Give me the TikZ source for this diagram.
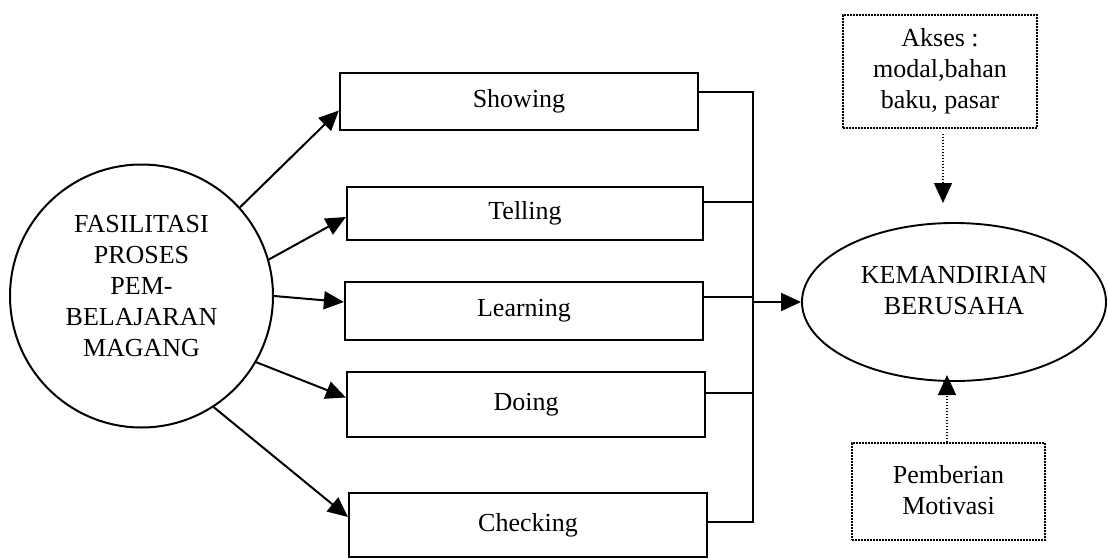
\documentclass[tikz,border=0pt]{standalone}
\usepackage{fontspec}
\setmainfont{Liberation Serif}
\usetikzlibrary{arrows.meta,shapes.geometric,calc}
\begin{document}
\begin{tikzpicture}[x=1pt,y=-1pt,
  txt/.style={font=\fontsize{26}{31}\selectfont, align=center},
  stepbox/.style={draw, line width=2.2pt, inner sep=0pt, txt},
  dotbox/.style={draw, line width=1.3pt, dash pattern=on 1.6pt off 1.4pt, inner sep=0pt, txt},
  conn/.style={line width=2pt},
  arr/.style={line width=2pt, -{Triangle[length=20pt,width=18pt]}},
  dotarr/.style={line width=1.3pt, dash pattern=on 1.6pt off 1.4pt, -{Triangle[length=20pt,width=18pt]}}
]
\useasboundingbox (0,0) rectangle (1108,559);
\fill[white] (0,0) rectangle (1108,559);

% main circle
\node[draw, circle, line width=2pt, minimum size=263pt, inner sep=0pt] (circ) at (141.5,296) {};
\node[txt] (circtxt) at ($(circ.center)+(0,-10)$)
  {FASILITASI\\PROSES\\PEM-\\BELAJARAN\\MAGANG};

% step boxes
\node[stepbox, minimum width=358pt, minimum height=57pt] (show)  at (519,101.5) {Showing};
\node[stepbox, minimum width=356pt, minimum height=53pt] (tell)  at (525,213.5) {Telling};
\node[stepbox, minimum width=358pt, minimum height=58pt] (learn) at (524,311) {Learning};
\node[stepbox, minimum width=358pt, minimum height=65pt] (doing) at (526,404.5) {Doing};
\node[stepbox, minimum width=358pt, minimum height=64pt] (check) at (528,525) {Checking};

% outcome ellipse
\node[draw, ellipse, line width=1.9pt, minimum width=304pt, minimum height=158pt, inner sep=0pt] (kem) at (954,302) {};
\node[txt] (kemtxt) at ($(kem.center)+(0,-11)$) {KEMANDIRIAN\\BERUSAHA};

% dotted boxes
\node[dotbox, minimum width=194pt, minimum height=113pt] (akses) at (940,71.5)
  {Akses :\\modal,bahan\\baku, pasar};
\node[dotbox, minimum width=193pt, minimum height=97pt] (moti) at (948.5,491.5)
  {\raisebox{4pt}{Pemberian}\\\raisebox{4pt}{Motivasi}};

% arrows from circle to boxes
\draw[arr] (circ.42)  -- ($(show.west)+(0,9)$);
\draw[arr] (circ.16)  -- ($(tell.west)+(0,3.5)$);
\draw[arr] (circ.0)   -- ($(learn.west)+(0,-9)$);
\draw[arr] (circ.-30) -- ($(doing.west)+(0,-7)$);
\draw[arr] (circ.-57) -- ($(check.west)+(0,-8)$);

% bus line on the right
\coordinate (bus) at (753,0);
\coordinate (sr) at ($(show.east)+(0,-9.5)$);
\coordinate (tr) at ($(tell.east)+(0,-11.5)$);
\coordinate (lr) at ($(learn.east)+(0,-14)$);
\coordinate (dr) at ($(doing.east)+(0,-11.5)$);
\coordinate (cr) at ($(check.east)+(0,-3)$);
\draw[conn] (sr) -- (sr -| bus) -- (cr -| bus) -- (cr);
\draw[conn] (tr) -- (tr -| bus);
\draw[conn] (lr) -- (lr -| bus);
\draw[conn] (dr) -- (dr -| bus);
\draw[arr] (kem.west -| bus) -- (kem.west);

% dotted arrows
\coordinate (kt) at (943,203);
\coordinate (kb) at (947,375);
\draw[dotarr] ($(akses.south -| kt)+(0,5)$) -- (kt);
\draw[dotarr] (moti.north -| kb) -- (kb);
\end{tikzpicture}
\end{document}
